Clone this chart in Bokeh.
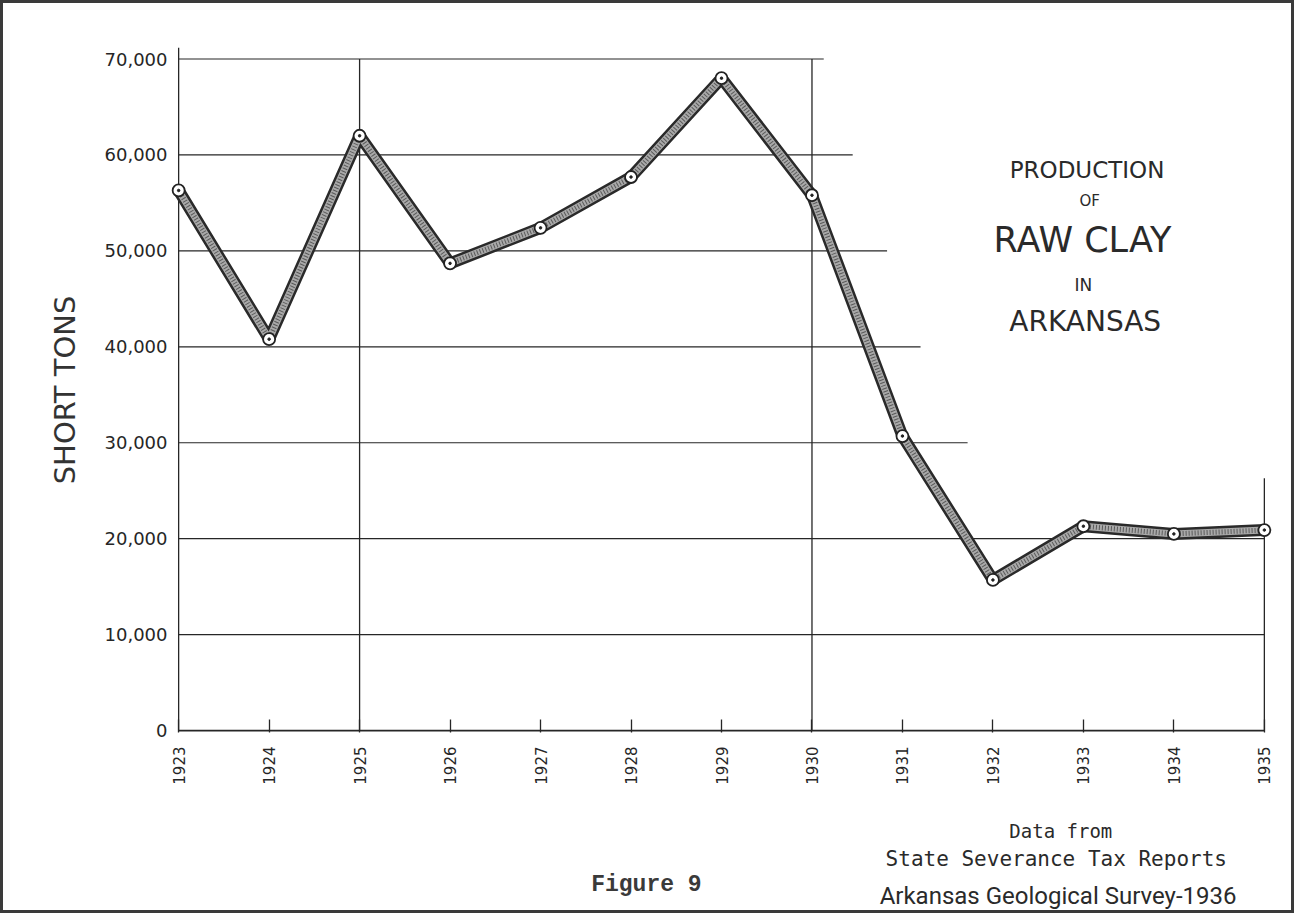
import math
from bokeh.plotting import figure
from bokeh.layouts import column
from bokeh.models import Range1d, Label, FixedTicker, NumeralTickFormatter
from bokeh.embed import file_html
from bokeh.resources import INLINE

# ---- data ----
years = [1923, 1924, 1925, 1926, 1927, 1928, 1929, 1930, 1931, 1932, 1933, 1934, 1935]
tons = [56300, 40800, 62000, 48700, 52400, 57700, 68000, 55800, 30700, 15700, 21300, 20500, 20900]
y_ticks = [0, 10000, 20000, 30000, 40000, 50000, 60000, 70000]

# horizontal rulings (value) and the year at which each one stops
grid_values = [70000, 60000, 50000, 40000, 30000, 20000, 10000]
grid_end_years = [1930.13, 1930.45, 1930.83, 1931.2, 1931.72, 1935, 1935]
# vertical rulings (year) and their top value
vline_years = [1923, 1925, 1930, 1935]
vline_tops = [71200, 70000, 70000, 26300]

INK = "#262626"
FRAME = "3px solid #3a3a3a"

p = figure(width=1294, height=800,
           x_range=Range1d(1922.91, 1935.09), y_range=Range1d(-200, 71200),
           output_backend="svg", toolbar_location=None,
           min_border_left=167, min_border_right=25, min_border_top=44, min_border_bottom=71,
           background_fill_color="white", border_fill_color="white")
p.styles = {"border-top": FRAME, "border-left": FRAME, "border-right": FRAME}
p.outline_line_color = None
p.grid.visible = False

# axes
p.xaxis.ticker = FixedTicker(ticks=years)
p.xaxis.formatter = NumeralTickFormatter(format="0")
p.xaxis.major_label_orientation = math.pi / 2
p.xaxis.major_label_standoff = 14
p.xaxis.major_tick_in = 13
p.xaxis.major_tick_out = 0
p.xaxis.minor_tick_line_color = None
p.xaxis.axis_line_color = None
p.xaxis.major_tick_line_color = INK
p.xaxis.major_tick_line_width = 1.3
p.xaxis.major_label_text_font = "DejaVu Sans"
p.xaxis.major_label_text_font_size = "15px"
p.xaxis.major_label_text_color = INK

p.yaxis.ticker = FixedTicker(ticks=y_ticks)
p.yaxis.formatter = NumeralTickFormatter(format="0,0")
p.yaxis.major_tick_in = 0
p.yaxis.major_tick_out = 0
p.yaxis.minor_tick_line_color = None
p.yaxis.axis_line_color = None
p.yaxis.major_label_standoff = 3
p.yaxis.major_label_text_font = "DejaVu Sans"
p.yaxis.major_label_text_font_size = "18px"
p.yaxis.major_label_text_color = INK
p.yaxis.axis_label = "SHORT TONS"
p.yaxis.axis_label_text_font = "DejaVu Sans"
p.yaxis.axis_label_text_font_size = "29px"
p.yaxis.axis_label_text_font_style = "normal"
p.yaxis.axis_label_text_color = "#333333"
p.yaxis.axis_label_standoff = 20

# rulings
p.segment(x0=[years[0]] * len(grid_values), y0=grid_values,
          x1=grid_end_years, y1=grid_values, line_color=INK, line_width=1.2)
p.segment(x0=vline_years, y0=[0] * len(vline_years), x1=vline_years, y1=vline_tops,
          line_color=INK, line_width=1.3)
p.segment(x0=[years[0]], y0=[0], x1=[years[-1]], y1=[0], line_color=INK, line_width=1.8)

# series: thick stippled band with small open circles
p.line(years, tons, line_width=12, line_color="#2a2a2a", line_join="round")
p.line(years, tons, line_width=7, line_color="#a9a9a9", line_join="round")
p.line(years, tons, line_width=5, line_color="#5a5a5a", line_dash="1 2", line_join="round")
p.scatter(years, tons, size=12, fill_color="white", line_color="#222222", line_width=1.8)
p.scatter(years, tons, size=2.5, fill_color="#222222", line_color="#222222")


def add_text(fig, x, y, text, size, font="DejaVu Sans", style="normal", color="#2a2a2a"):
    fig.add_layout(Label(x=x, y=y, text=text, text_font=font, text_font_size=size,
                         text_font_style=style, text_color=color, text_align="center",
                         text_baseline="middle"))


add_text(p, 1933.04, 58460, "PRODUCTION", "23px")
add_text(p, 1933.07, 55230, "OF", "15px")
add_text(p, 1932.99, 51150, "RAW CLAY", "35px")
add_text(p, 1933.0, 46460, "IN", "17px")
add_text(p, 1933.02, 42600, "ARKANSAS", "28px")

# strip below the chart for the source notes (same x scale, continues the y scale)
q = figure(width=1294, height=113, x_range=p.x_range, y_range=Range1d(-18781, -7298),
           output_backend="svg", toolbar_location=None,
           x_axis_location=None, y_axis_location=None,
           min_border_left=167, min_border_right=25, min_border_top=0, min_border_bottom=0,
           background_fill_color="white", border_fill_color="white")
q.styles = {"border-bottom": FRAME, "border-left": FRAME, "border-right": FRAME}
q.outline_line_color = None
q.grid.visible = False

add_text(q, 1932.75, -10430, "Data from", "19px", font="DejaVu Sans Mono")
add_text(q, 1932.77, -13250, "State  Severance Tax Reports", "21px", font="DejaVu Sans Mono")
add_text(q, 1932.72, -17050, "Arkansas Geological Survey-1936", "24px", font="Roboto")
add_text(q, 1928.17, -15900, "Figure 9", "23px", font="Liberation Mono", style="bold", color="#3a3a3a")

layout = column(p, q, spacing=0)
open("out.html", "w").write(file_html(layout, INLINE))
